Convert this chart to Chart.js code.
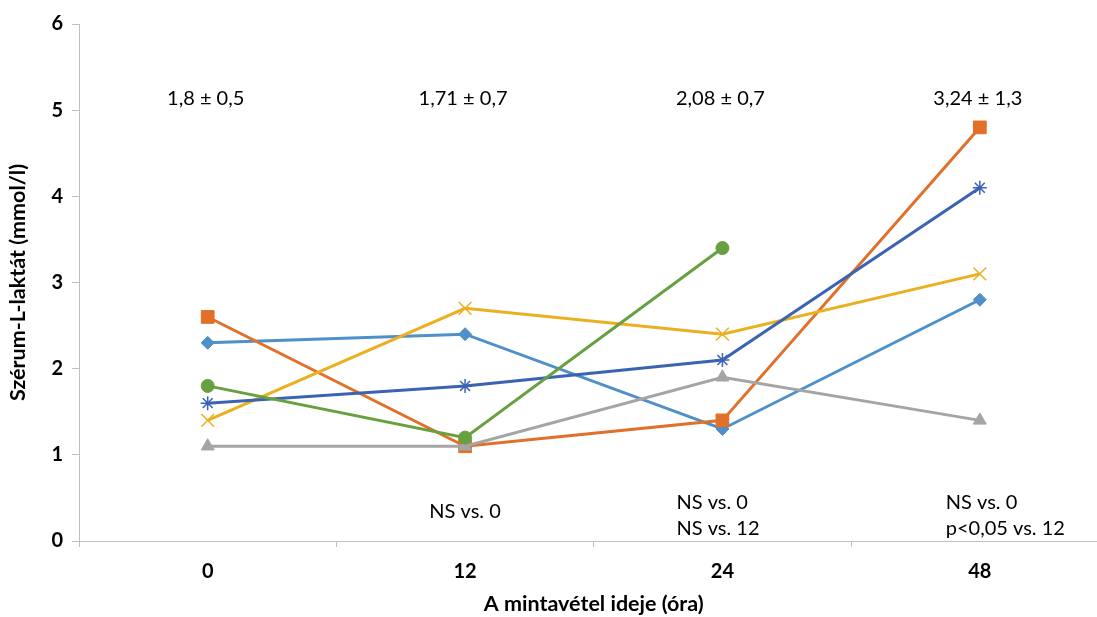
<!DOCTYPE html>
<html>
<head>
<meta charset="utf-8">
<script src="https://cdn.jsdelivr.net/npm/chart.js@4.4.1/dist/chart.umd.min.js"></script>
<style>
  html, body { margin: 0; padding: 0; background: #ffffff; overflow: hidden; }
  #wrap { width: 1119px; height: 617px; }
</style>
</head>
<body>
<div id="wrap"><canvas id="chart" width="1119" height="617"></canvas></div>
<script>
// Sampling times (hours)
const categories = ['0', '12', '24', '48'];

// Serum L-lactate per patient (mmol/l)
const patientA = [2.3, 2.4, 1.3, 2.8];
const patientB = [2.6, 1.1, 1.4, 4.8];
const patientC = [1.1, 1.1, 1.9, 1.4];
const patientD = [1.4, 2.7, 2.4, 3.1];
const patientE = [1.6, 1.8, 2.1, 4.1];
const patientF = [1.8, 1.2, 3.4, null];

// Mean ± SD per sampling time, and significance notes
const meanLabels = ['1,8 ± 0,5', '1,71 ± 0,7', '2,08 ± 0,7', '3,24 ± 1,3'];
const meanLabelLevel = 5.14;
const statNotes = [[], ['NS vs. 0'], ['NS vs. 0', 'NS vs. 12'], ['NS vs. 0', 'p<0,05 vs. 12']];

const FONT = 'Lato, "Open Sans", sans-serif';

const seriesDefs = [
  { data: patientA, style: 'rectRot', radius: 6.5 },
  { data: patientB, style: 'rect', radius: 9 },
  { data: patientC, style: 'triangle', radius: 7.5 },
  { data: patientD, style: 'crossRot', radius: 9 },
  { data: patientE, style: 'star', radius: 7 },
  { data: patientF, style: 'circle', radius: 6.5 }
];

const lineColors = ['#4F8FCA', '#E0702A', '#A5A5A5', '#EAB020', '#3B63B3', '#67A03F'];

const datasets = seriesDefs.map((s, i) => ({
  data: s.data,
  borderColor: lineColors[i],
  backgroundColor: lineColors[i],
  borderWidth: 3,
  pointStyle: s.style,
  pointRadius: s.radius,
  pointHoverRadius: s.radius,
  pointBorderWidth: (s.style === 'crossRot' || s.style === 'star') ? 1.5 : 1,
  pointBorderColor: lineColors[i],
  pointBackgroundColor: lineColors[i],
  spanGaps: false,
  tension: 0,
  // later patients are painted over earlier ones
  order: seriesDefs.length - i
}));

// Mean values above the lines and test results under them
const notesPlugin = {
  id: 'notes',
  afterDatasetsDraw(chart) {
    const { ctx, scales } = chart;
    const xs = scales.x, ys = scales.y;
    const twoLineShift = [0, 0, -46, -34];
    ctx.save();
    ctx.fillStyle = '#000000';
    ctx.font = '20px ' + FONT;
    ctx.textBaseline = 'middle';
    meanLabels.forEach((t, i) => {
      ctx.textAlign = 'center';
      ctx.fillText(t, xs.getPixelForValue(i) - 2, ys.getPixelForValue(meanLabelLevel));
    });
    statNotes.forEach((lines, i) => {
      const cx = xs.getPixelForValue(i);
      if (lines.length === 1) {
        ctx.textAlign = 'center';
        ctx.fillText(lines[0], cx, ys.getPixelForValue(0.34));
      } else if (lines.length === 2) {
        ctx.textAlign = 'left';
        ctx.fillText(lines[0], cx + twoLineShift[i], ys.getPixelForValue(0.45));
        ctx.fillText(lines[1], cx + twoLineShift[i], ys.getPixelForValue(0.15));
      }
    });
    ctx.restore();
  }
};

new Chart(document.getElementById('chart'), {
  type: 'line',
  data: { labels: categories, datasets },
  plugins: [notesPlugin],
  options: {
    responsive: false,
    animation: false,
    layout: { padding: { top: 24, right: 1, left: 0, bottom: 0 } },
    plugins: { legend: { display: false }, tooltip: { enabled: false } },
    scales: {
      x: {
        type: 'category',
        offset: true,
        grid: { display: true, drawOnChartArea: false, drawTicks: true, tickLength: 6, color: '#BFBFBF', offset: true },
        border: { display: true, color: '#BFBFBF', width: 1 },
        ticks: { color: '#000000', font: { family: FONT, size: 20, weight: 'bold' }, padding: 13 },
        title: { display: true, text: 'A mintavétel ideje (óra)', color: '#000000', font: { family: FONT, size: 21.5, weight: 'bold' }, padding: { top: 0, bottom: 0 } },
        afterFit(scale) { scale.height = 76; }
      },
      y: {
        min: 0,
        max: 6,
        grid: { display: true, drawOnChartArea: false, drawTicks: true, tickLength: 7, color: '#BFBFBF' },
        border: { display: true, color: '#BFBFBF', width: 1 },
        ticks: { stepSize: 1, color: '#000000', font: { family: FONT, size: 20, weight: 'bold' }, padding: 9 },
        title: { display: true, text: 'Szérum-L-laktát (mmol/l)', color: '#000000', font: { family: FONT, size: 21.5, weight: 'bold' }, padding: { top: 5, bottom: 0 } },
        afterFit(scale) { scale.width = 79; }
      }
    }
  }
});
</script>
</body>
</html>
